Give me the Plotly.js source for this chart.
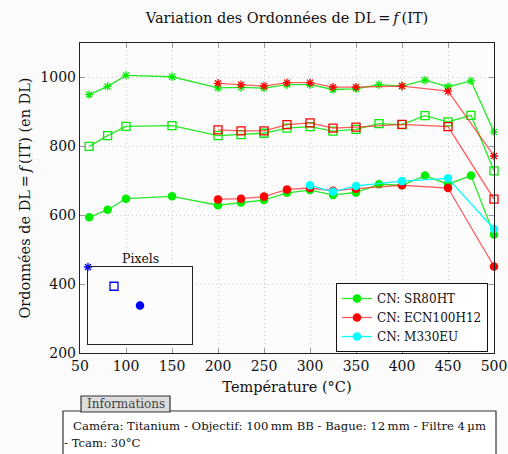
<!DOCTYPE html>
<html><head><meta charset="utf-8">
<script src="https://cdn.plot.ly/plotly-3.0.1.min.js"></script>
<style>html,body{margin:0;padding:0;background:#fbfbfb;}</style>
</head><body><div id="chart" style="width:508px;height:454px;"></div>
<script>
// ---- data ----
const xSR = [60, 80, 100, 150, 200, 225, 250, 275, 300, 325, 350, 375, 400, 425, 450, 475, 500];
const srStar   = [950, 974, 1006, 1002, 970, 971, 969, 979, 979, 965, 967, 979, 975, 992, 973, 990, 842];
const srSquare = [800, 831, 858, 860, 831, 834, 838, 853, 857, 844, 849, 866, 863, 889, 871, 890, 729];
const srCircle = [594, 616, 648, 655, 629, 637, 644, 665, 673, 659, 666, 690, 687, 715, 690, 715, 544];

const xECN = [200, 225, 250, 275, 300, 325, 350, 400, 450, 500];
const ecnStar   = [983, 979, 975, 985, 985, 972, 972, 975, 960, 772];
const ecnSquare = [848, 845, 845, 863, 868, 853, 856, 864, 857, 647];
const ecnCircle = [646, 648, 654, 675, 679, 671, 677, 687, 679, 451];

const xM330 = [300, 325, 350, 400, 450, 500];
const m330Circle = [687, 668, 685, 699, 707, 560];

const insetX = [0, 0.25, 0.5];
const insetY = [1, 0.75, 0.5];

const seriesNames = ['CN: SR80HT', 'CN: ECN100H12', 'CN: M330EU'];
const xTicks = [50, 100, 150, 200, 250, 300, 350, 400, 450, 500];
const yTicks = [200, 400, 600, 800, 1000];

// ---- geometry helpers (pixel -> paper) ----
const W = 508, H = 454, L = 80, R = 14, T = 43, B = 101;
const pw = W - L - R, ph = H - T - B;
const px = x => (x - L) / pw;
const py = y => (H - B - y) / ph;

const FONT = 'DejaVu Serif';
const green = '#00ee00', greenLine = 'rgba(0,230,0,0.85)';
const red = '#ff0000', redLine = 'rgba(255,40,40,0.75)';
const cyan = '#00ffff';

function tr(x, y, color, lineColor, symbol, name, showlegend, size) {
  const open = symbol !== 'circle';
  return {
    x: x, y: y, type: 'scatter', mode: 'lines+markers', name: name, showlegend: showlegend,
    legendgroup: name, cliponaxis: false,
    line: {color: lineColor, width: 1.3},
    marker: {symbol: symbol, size: size, color: color,
             line: {color: color, width: open ? 1.3 : 0}}
  };
}

const data = [
  tr(xSR, srStar, green, greenLine, 'asterisk-open', seriesNames[0], false, 7),
  tr(xSR, srSquare, green, greenLine, 'square-open', seriesNames[0], false, 8),
  tr(xECN, ecnStar, red, redLine, 'asterisk-open', seriesNames[1], false, 7),
  tr(xECN, ecnSquare, red, redLine, 'square-open', seriesNames[1], false, 8),
  tr(xSR, srCircle, green, greenLine, 'circle', seriesNames[0], true, 8.5),
  tr(xECN, ecnCircle, red, redLine, 'circle', seriesNames[1], true, 8.5),
  tr(xM330, m330Circle, cyan, cyan, 'circle', seriesNames[2], true, 8.5),
  {x: [insetX[0]], y: [insetY[0]], xaxis: 'x2', yaxis: 'y2', type: 'scatter', mode: 'markers', showlegend: false, cliponaxis: false,
   marker: {symbol: 'asterisk-open', size: 7, color: '#0000ff', line: {color: '#0000ff', width: 1.3}}},
  {x: [insetX[1]], y: [insetY[1]], xaxis: 'x2', yaxis: 'y2', type: 'scatter', mode: 'markers', showlegend: false, cliponaxis: false,
   marker: {symbol: 'square-open', size: 8, color: '#0000ff', line: {color: '#0000ff', width: 1.3}}},
  {x: [insetX[2]], y: [insetY[2]], xaxis: 'x2', yaxis: 'y2', type: 'scatter', mode: 'markers', showlegend: false, cliponaxis: false,
   marker: {symbol: 'circle', size: 8.5, color: '#0000ff'}}
];

const layout = {
  width: W, height: H,
  margin: {l: L, r: R, t: T, b: B},
  paper_bgcolor: '#fbfbfb', plot_bgcolor: '#fcfcfc',
  font: {family: FONT, size: 12, color: '#111'},
  title: {text: 'Variation des Ordonnées de DL\u2009=\u2009<i>f</i>\u2009(IT)', font: {family: FONT, size: 14.5, color: '#111'},
          xref: 'container', yref: 'container', x: 287 / W, xanchor: 'center', y: 1 - 18 / H, yanchor: 'middle'},
  xaxis: {range: [50, 500], tickvals: xTicks, ticktext: xTicks.map(String), ticks: 'inside', ticklen: 5, tickcolor: '#999',
          showline: true, linecolor: '#222', linewidth: 1.2, mirror: 'ticks', showgrid: true, gridcolor: '#cccccc', griddash: '1px,3px',
          zeroline: false, tickfont: {family: FONT, size: 14, color: '#111'},
          title: {text: 'Température (°C)', font: {family: FONT, size: 14.5, color: '#111'}, standoff: 8}},
  yaxis: {range: [200, 1100], tickvals: yTicks, ticktext: yTicks.map(String), ticks: 'inside', ticklen: 5, tickcolor: '#999',
          showline: true, linecolor: '#222', linewidth: 1.2, mirror: 'ticks', showgrid: true, gridcolor: '#cccccc', griddash: '1px,3px',
          zeroline: false, tickfont: {family: FONT, size: 14, color: '#111'},
          title: {text: 'Ordonnées de DL\u2009=\u2009<i>f</i>\u2009(IT) (en DL)', font: {family: FONT, size: 14.5, color: '#111'}, standoff: 6}},
  xaxis2: {domain: [px(88), px(192)], anchor: 'y2', range: [0, 1], showgrid: false, zeroline: false, showticklabels: false,
           ticks: '', showline: true, linecolor: '#222', linewidth: 1.2, mirror: true},
  yaxis2: {domain: [py(344), py(267)], anchor: 'x2', range: [0, 1], showgrid: false, zeroline: false, showticklabels: false,
           ticks: '', showline: true, linecolor: '#222', linewidth: 1.2, mirror: true},
  legend: {x: px(336), y: py(283), xanchor: 'left', yanchor: 'top', bgcolor: '#ffffff', bordercolor: '#111', borderwidth: 1,
           font: {family: FONT, size: 12, color: '#111'}, tracegroupgap: 0, itemwidth: 30},
  shapes: [
    {type: 'rect', xref: 'paper', yref: 'paper', x0: px(88), x1: px(192), y0: py(344), y1: py(267), fillcolor: '#ffffff', line: {width: 0}, layer: 'below'},
    {type: 'rect', xref: 'paper', yref: 'paper', x0: px(63), x1: px(496), y0: py(411), y1: py(470), fillcolor: '#ffffff', line: {color: '#333', width: 1.2}, layer: 'above'},
    {type: 'rect', xref: 'paper', yref: 'paper', x0: px(81), x1: px(170), y0: py(412), y1: py(396), fillcolor: '#dcdcdc', line: {color: '#333', width: 1.2}, layer: 'above'}
  ],
  annotations: [
    {text: 'Pixels', xref: 'paper', yref: 'paper', x: px(140), y: py(258), xanchor: 'center', yanchor: 'middle', showarrow: false,
     font: {family: FONT, size: 12.5, color: '#111'}},
    {text: 'Informations', xref: 'paper', yref: 'paper', x: px(125.5), y: py(404.5), xanchor: 'center', yanchor: 'middle', showarrow: false,
     font: {family: FONT, size: 12, color: '#444'}},
    {text: 'Caméra: Titanium - Objectif: 100\u2009mm BB - Bague: 12\u2009mm - Filtre 4\u2009µm', xref: 'paper', yref: 'paper',
     x: px(71), y: py(426), xanchor: 'left', yanchor: 'middle', showarrow: false, font: {family: FONT, size: 11.7, color: '#111'}},
    {text: '- Tcam: 30°C', xref: 'paper', yref: 'paper',
     x: px(62), y: py(443), xanchor: 'left', yanchor: 'middle', showarrow: false, font: {family: FONT, size: 11.7, color: '#111'}}
  ]
};

Plotly.newPlot('chart', data, layout, {displayModeBar: false, staticPlot: true});
</script>
</body></html>
